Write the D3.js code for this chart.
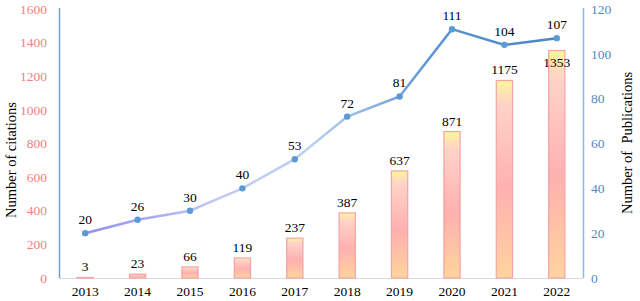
<!DOCTYPE html>
<html lang="en">
<head>
    <meta charset="UTF-8">
    <title>Citations and Publications</title>
    <script src="https://d3js.org/d3.v7.min.js"></script>
    <style>
        body { margin: 0; background: #fff; }
        svg text { font-family: "Liberation Serif", "Times New Roman", serif; }
    </style>
</head>
<body>
    <div id="chart"></div>

    <script>
// data
var years = ["2013", "2014", "2015", "2016", "2017", "2018", "2019", "2020", "2021", "2022"];
var citations = [3, 23, 66, 119, 237, 387, 637, 871, 1175, 1353];
var publications = [20, 26, 30, 40, 53, 72, 81, 111, 104, 107];
var citationTicks = [0, 200, 400, 600, 800, 1000, 1200, 1400, 1600];
var publicationTicks = [0, 20, 40, 60, 80, 100, 120];

var width = 640, height = 301;
var margin = { top: 9, right: 57, bottom: 23, left: 59 };

var svg = d3.select("#chart").append("svg")
    .attr("width", width)
    .attr("height", height);

var x = d3.scaleBand()
    .domain(years)
    .range([margin.left, width - margin.right])
    .paddingInner(0.69)
    .paddingOuter(0.345);

var yLeft = d3.scaleLinear()
    .domain([0, 1600])
    .range([height - margin.bottom, margin.top]);

var yRight = d3.scaleLinear()
    .domain([0, 120])
    .range([height - margin.bottom, margin.top]);

var defs = svg.append("defs");

// bar fill: yellow top, pink middle, peach bottom
var barGrad = defs.append("linearGradient")
    .attr("id", "barGrad")
    .attr("x1", 0).attr("y1", 0).attr("x2", 0).attr("y2", 1);
barGrad.append("stop").attr("offset", "0%").attr("stop-color", "#fff59a");
barGrad.append("stop").attr("offset", "12%").attr("stop-color", "#ffd3c8");
barGrad.append("stop").attr("offset", "55%").attr("stop-color", "#ffb0b0");
barGrad.append("stop").attr("offset", "100%").attr("stop-color", "#ffd49c");

// line colour changes from left to right
var lineGrad = defs.append("linearGradient")
    .attr("id", "lineGrad")
    .attr("gradientUnits", "userSpaceOnUse")
    .attr("x1", x("2013")).attr("y1", 0)
    .attr("x2", x("2022")).attr("y2", 0);
lineGrad.append("stop").attr("offset", "0%").attr("stop-color", "#8a8cf2");
lineGrad.append("stop").attr("offset", "30%").attr("stop-color", "#c4caf6");
lineGrad.append("stop").attr("offset", "50%").attr("stop-color", "#b9d0f0");
lineGrad.append("stop").attr("offset", "75%").attr("stop-color", "#5b95d3");
lineGrad.append("stop").attr("offset", "100%").attr("stop-color", "#4a85c7");

// axes
var bottomY = height - margin.bottom;

svg.append("line")
    .attr("x1", margin.left).attr("x2", width - margin.right)
    .attr("y1", bottomY + 0.5).attr("y2", bottomY + 0.5)
    .attr("stroke", "#d9d9d9");

svg.append("line")
    .attr("x1", margin.left + 0.5).attr("x2", margin.left + 0.5)
    .attr("y1", margin.top - 1).attr("y2", bottomY)
    .attr("stroke", "#6f9fcf").attr("stroke-width", 1.5);

svg.append("line")
    .attr("x1", width - margin.right + 0.5).attr("x2", width - margin.right + 0.5)
    .attr("y1", margin.top - 1).attr("y2", bottomY)
    .attr("stroke", "#8ab8e6").attr("stroke-width", 1.5);

svg.selectAll(".ltick")
    .data(citationTicks)
    .enter().append("text")
    .attr("class", "ltick")
    .attr("x", margin.left - 12)
    .attr("y", function(d) { return yLeft(d); })
    .attr("dy", "0.35em")
    .attr("text-anchor", "end")
    .attr("fill", "#f28080")
    .style("font-size", "13.5px")
    .text(function(d) { return d; });

svg.selectAll(".rtick")
    .data(publicationTicks)
    .enter().append("text")
    .attr("class", "rtick")
    .attr("x", width - margin.right + 8)
    .attr("y", function(d) { return yRight(d); })
    .attr("dy", "0.35em")
    .attr("text-anchor", "start")
    .attr("fill", "#4f88c6")
    .style("font-size", "13.5px")
    .text(function(d) { return d; });

svg.selectAll(".xtick")
    .data(years)
    .enter().append("text")
    .attr("class", "xtick")
    .attr("x", function(d) { return x(d) + x.bandwidth() / 2; })
    .attr("y", bottomY + 18)
    .attr("text-anchor", "middle")
    .attr("fill", "#000")
    .style("font-size", "13.5px")
    .text(function(d) { return d; });

svg.append("text")
    .attr("transform", "translate(16," + 160 + ") rotate(-90)")
    .attr("text-anchor", "middle")
    .style("font-size", "14.5px")
    .text("Number of citations");

svg.append("text")
    .attr("transform", "translate(" + 632 + "," + 143 + ") rotate(-90)")
    .attr("text-anchor", "middle")
    .style("font-size", "14.5px")
    .attr("xml:space", "preserve")
    .text("Number of  Publications");

// bars
svg.selectAll(".bar")
    .data(citations)
    .enter().append("rect")
    .attr("class", "bar")
    .attr("x", function(d, i) { return x(years[i]); })
    .attr("y", function(d) { return yLeft(d); })
    .attr("width", x.bandwidth())
    .attr("height", function(d) { return bottomY - yLeft(d); })
    .attr("fill", "url(#barGrad)")
    .attr("stroke", "#f5a3a8")
    .attr("stroke-width", 1.2);

// line
var line = d3.line()
    .x(function(d, i) { return x(years[i]) + x.bandwidth() / 2; })
    .y(function(d) { return yRight(d); });

svg.append("path")
    .datum(publications)
    .attr("d", line)
    .attr("fill", "none")
    .attr("stroke", "url(#lineGrad)")
    .attr("stroke-width", 2.5);

svg.selectAll(".dot")
    .data(publications)
    .enter().append("circle")
    .attr("class", "dot")
    .attr("cx", function(d, i) { return x(years[i]) + x.bandwidth() / 2; })
    .attr("cy", function(d) { return yRight(d); })
    .attr("r", 3.2)
    .attr("fill", "#5b9bd5");

// labels
svg.selectAll(".plabel")
    .data(publications)
    .enter().append("text")
    .attr("class", "plabel")
    .attr("x", function(d, i) { return x(years[i]) + x.bandwidth() / 2; })
    .attr("y", function(d) { return yRight(d) - 9; })
    .attr("text-anchor", "middle")
    .style("font-size", "13.5px")
    .text(function(d) { return d; });

svg.selectAll(".clabel")
    .data(citations)
    .enter().append("text")
    .attr("class", "clabel")
    .attr("x", function(d, i) { return x(years[i]) + x.bandwidth() / 2; })
    .attr("y", function(d, i) {
        var above = yLeft(d) - 6;
        var lineLabel = yRight(publications[i]) - 9;
        // push down inside the bar when it would hit the line label
        return Math.abs(above - lineLabel) < 20 ? yLeft(d) + 16 : above;
    })
    .attr("text-anchor", "middle")
    .style("font-size", "13.5px")
    .text(function(d) { return d; });
    </script>
</body>
</html>
